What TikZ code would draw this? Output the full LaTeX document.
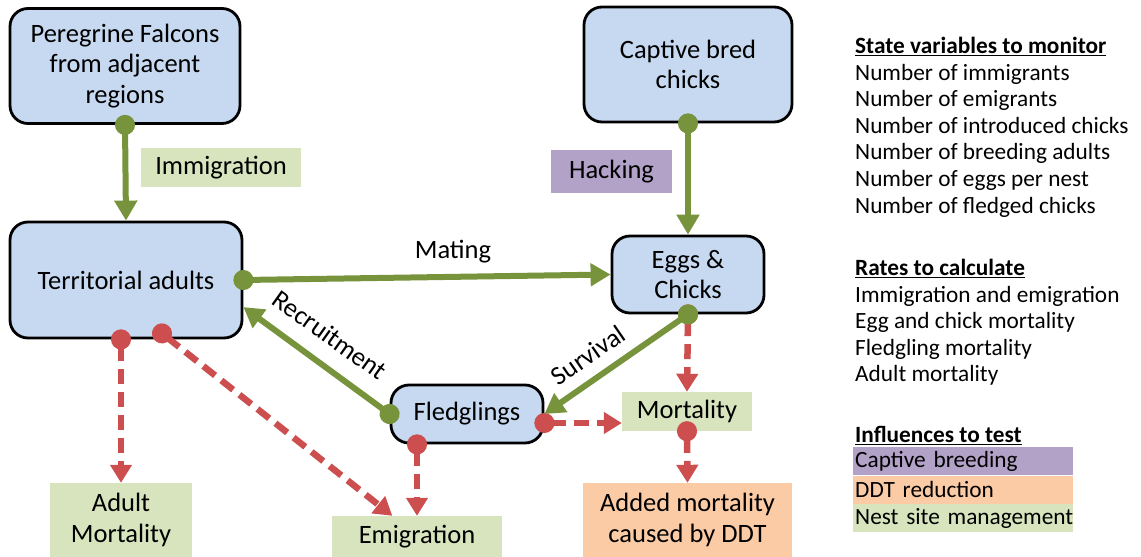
\documentclass[tikz,border=0pt]{standalone}
\usepackage{fontspec}
\setmainfont{Carlito}
\usepackage{tikz}
\usetikzlibrary{arrows.meta,positioning}

\definecolor{boxblue}{HTML}{C6D9F1}
\definecolor{flowgreen}{HTML}{77933C}
\definecolor{labelgreen}{HTML}{D7E4BD}
\definecolor{hackpurple}{HTML}{B3A2C7}
\definecolor{ddtorange}{HTML}{FBCBA6}
\definecolor{lossred}{HTML}{CC4E4E}

\newcommand{\mainsize}{\fontsize{26.5}{30.5}\selectfont}
\newcommand{\panelsize}{\fontsize{23.3}{26.6}\selectfont}

\begin{document}
\begin{tikzpicture}[
        x=1pt, y=1pt,
        stockbox/.style={
            rectangle, rounded corners=18pt,
            draw=black, line width=2.8pt,
            fill=boxblue,
            align=center,
            font=\mainsize
        },
        flowlabel/.style={
            rectangle, fill=labelgreen,
            align=center, inner sep=0pt,
            font=\mainsize
        },
        gainarrow/.style={
            draw=flowgreen, line width=6pt,
            {Circle[length=20pt]}-{Triangle[width=22pt,length=20pt]},
            shorten <=-10pt
        },
        lossarrow/.style={
            draw=lossred, line width=6.5pt,
            dash pattern=on 15pt off 8pt,
            {Circle[length=20pt]}-{Triangle[width=21pt,length=18pt]},
            shorten <=-10pt
        },
        panel/.style={
            align=left, inner sep=0pt,
            font=\panelsize
        },
        influence/.style={
            rectangle, inner xsep=2pt, inner ysep=0pt,
            text width=216pt, minimum height=28pt,
            align=left, font=\panelsize
        }
    ]

    \useasboundingbox (0,0) rectangle (1141,-557);

    % stocks
    \node[stockbox, minimum width=230pt, minimum height=115pt] (falcons) at (125,-66)
        {Peregrine Falcons\\from adjacent\\regions};
    \node[stockbox, minimum width=232pt, minimum height=116pt] (adults) at (126,-280)
        {Territorial adults};
    \node[stockbox, minimum width=208pt, minimum height=115pt] (captive) at (688,-64.5)
        {Captive bred\\chicks};
    \node[stockbox, minimum width=152pt, minimum height=77pt] (eggs) at (688,-274.5)
        {Eggs \&\\Chicks};
    \node[stockbox, minimum width=152pt, minimum height=58pt] (fledglings) at (467,-414)
        {Fledglings};

    % flow labels
    \node[flowlabel, minimum width=160pt, minimum height=39pt] (immigration) at (221,-167.5)
        {Immigration};
    \node[flowlabel, fill=hackpurple, minimum width=121pt, minimum height=43pt] (hacking) at (611.5,-171.5)
        {Hacking};
    \node[flowlabel, minimum width=130pt, minimum height=39pt] (mortality) at (687,-411.5)
        {Mortality};
    \node[flowlabel, fill=ddtorange, minimum width=209pt, minimum height=74pt] (ddtmort) at (687.5,-520)
        {Added mortality\\caused by DDT};
    \node[flowlabel, minimum width=142pt, minimum height=74pt] (adultmort) at (121,-520)
        {Adult\\Mortality};
    \node[flowlabel, minimum width=170pt, minimum height=41pt] (emigration) at (417,-536.5)
        {Emigration};

    % losses
    \draw[lossarrow] (eggs.south) -- (mortality.north);
    \draw[lossarrow] ([yshift=-9pt]fledglings.east) -- ([yshift=-9pt]fledglings.east -| mortality.west);
    \draw[lossarrow] (mortality.south) -- (ddtmort.north);
    \draw[lossarrow] (adults.south -| adultmort.north) -- (adultmort.north);
    \draw[lossarrow] ([xshift=36pt,yshift=6pt]adults.south) -- (emigration.140);
    \draw[lossarrow] (fledglings.south -| emigration.north) -- (emigration.north);

    % gains
    \draw[gainarrow] (falcons.south) -- (adults.north);
    \draw[gainarrow] (captive.south) -- (eggs.north);
    \draw[gainarrow] (adults.east) -- (eggs.west);
    \draw[gainarrow] (fledglings.west) -- (adults.-13);
    \draw[gainarrow] (eggs.south) -- (fledglings.east);

    \node[font=\mainsize] (matinglbl) at (453,-252) {Mating};
    \node[font=\mainsize, rotate=-35.5] (recruitlbl) at (330,-335) {Recruitment};
    \node[font=\mainsize, rotate=34.6] (survivallbl) at (588,-355) {Survival};

    % side panel
    \node[panel, anchor=north west] (statevars) at (855,-37)
        {\textbf{\underline{State variables to monitor}}\\
         Number of immigrants\\
         Number of emigrants\\
         Number of introduced chicks\\
         Number of breeding adults\\
         Number of eggs per nest\\
         Number of fledged chicks};
    \node[panel, anchor=north west] (rates) at (855,-259)
        {\textbf{\underline{Rates to calculate}}\\
         Immigration and emigration\\
         Egg and chick mortality\\
         Fledgling mortality\\
         Adult mortality};
    \node[panel, anchor=north west] (influences) at (855,-426)
        {\textbf{\underline{Influences to test}}};
    \node[influence, fill=hackpurple, anchor=north west] (captivebreed) at (853,-447)
        {\mbox{Captive breeding}};
    \node[influence, fill=ddtorange, below=0pt of captivebreed] (ddtreduce)
        {\mbox{DDT reduction}};
    \node[influence, fill=labelgreen, below=0pt of ddtreduce] (nestsite)
        {\mbox{Nest site management}};

\end{tikzpicture}
\end{document}
